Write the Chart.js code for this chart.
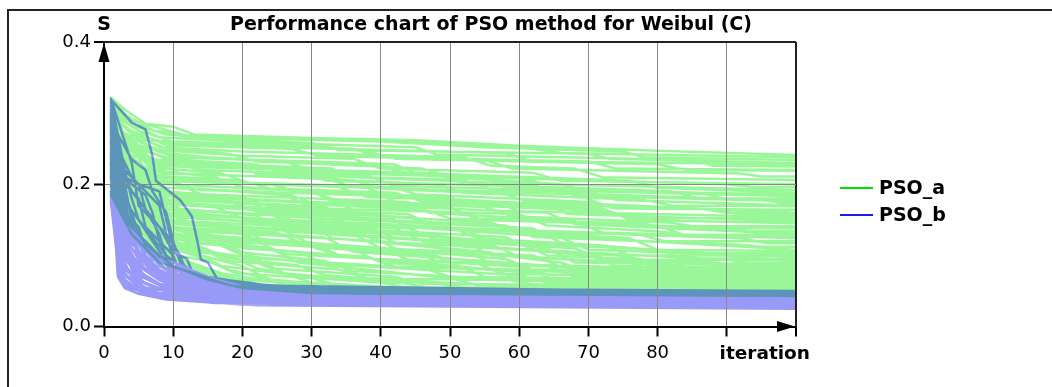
<!DOCTYPE html>
<html>
<head>
<meta charset="utf-8">
<script src="https://cdn.jsdelivr.net/npm/chart.js@4/dist/chart.umd.min.js"></script>
<style>
body{margin:0;background:#fff;}
</style>
</head>
<body>
<canvas id="psoChart" width="1052" height="387"></canvas>
<script>
// each curve: iteration, S, iteration, S ... (break points of the run)
var psoA = [
	[1,.322, 3,.305, 6,.285, 10,.281, 13,.27, 30,.265, 45,.262, 60,.254, 80,.247, 100,.241],
	[1,.318, 4,.29, 8,.279, 12,.268, 35,.263, 50,.256, 62,.25, 66,.244, 100,.238],
	[1,.315, 3,.298, 7,.276, 14,.266, 40,.26, 55,.252, 75,.246, 78,.238, 100,.234],
	[1,.31, 4,.285, 9,.27, 20,.262, 30,.258, 34,.248, 70,.243, 73,.236, 100,.230],
	[1,.305, 3,.29, 8,.266, 25,.258, 45,.252, 48,.242, 85,.234, 88,.226, 100,.225],
	[1,.30, 5,.275, 10,.26, 30,.254, 38,.246, 42,.236, 80,.228, 84,.22, 100,.219],
	[1,.296, 4,.275, 9,.255, 27,.25, 31,.24, 55,.234, 59,.222, 92,.215, 95,.211, 100,.211],
	[1,.292, 3,.28, 8,.252, 20,.246, 52,.238, 56,.226, 68,.222, 72,.21, 100,.206],
	[1,.30, 4,.27, 9,.25, 18,.243, 22,.232, 40,.226, 44,.214, 60,.208, 64,.2, 100,.192],
	[1,.288, 3,.272, 8,.245, 15,.238, 26,.232, 30,.22, 50,.214, 76,.205, 80,.195, 100,.188],
	[1,.285, 5,.255, 10,.24, 28,.23, 46,.222, 50,.21, 66,.2, 70,.19, 100,.183],
	[1,.28, 4,.258, 9,.235, 22,.228, 25,.218, 55,.21, 58,.196, 86,.188, 90,.179, 100,.178],
	[1,.31, 3,.28, 7,.25, 12,.23, 33,.222, 36,.21, 62,.2, 65,.188, 95,.178, 98,.174, 100,.174],
	[1,.276, 4,.25, 8,.228, 30,.218, 34,.206, 48,.2, 52,.188, 78,.178, 82,.17, 100,.169],
	[1,.27, 3,.252, 9,.222, 17,.215, 21,.202, 42,.196, 45,.186, 70,.175, 74,.166, 100,.164],
	[1,.29, 5,.245, 11,.215, 36,.206, 40,.194, 58,.186, 61,.176, 88,.165, 92,.158, 100,.157],
	[1,.265, 4,.238, 8,.21, 24,.2, 28,.19, 50,.182, 53,.17, 73,.162, 76,.153, 100,.152],
	[1,.30, 3,.268, 6,.235, 10,.205, 38,.195, 41,.184, 64,.172, 67,.158, 100,.148],
	[1,.26, 4,.232, 9,.2, 30,.19, 33,.176, 55,.168, 59,.155, 82,.146, 85,.141, 100,.141],
	[1,.282, 3,.255, 7,.222, 12,.195, 26,.185, 29,.172, 46,.165, 50,.152, 90,.138, 93,.134, 100,.134],
	[1,.255, 4,.226, 8,.19, 20,.182, 24,.168, 60,.158, 64,.142, 80,.134, 84,.129, 100,.129],
	[1,.295, 4,.25, 8,.21, 14,.186, 44,.175, 47,.16, 68,.148, 72,.132, 100,.124],
	[1,.25, 3,.228, 7,.192, 18,.178, 21,.165, 36,.156, 40,.142, 77,.13, 81,.12, 100,.12],
	[1,.305, 3,.27, 6,.22, 10,.18, 32,.168, 35,.152, 58,.142, 62,.126, 92,.115, 95,.112, 100,.112],
	[1,.245, 4,.21, 9,.175, 27,.162, 31,.148, 52,.136, 56,.12, 84,.106, 87,.103, 100,.103],
	[1,.275, 3,.24, 7,.198, 12,.17, 40,.158, 44,.14, 66,.125, 70,.108, 100,.098],
	[1,.24, 4,.205, 8,.168, 22,.156, 25,.14, 48,.128, 52,.112, 74,.1, 78,.094, 100,.094],
	[1,.29, 3,.25, 6,.205, 11,.165, 34,.15, 38,.132, 60,.118, 64,.1, 88,.09, 91,.087, 100,.087],
	[1,.235, 4,.2, 9,.16, 28,.148, 32,.13, 56,.115, 60,.098, 80,.088, 84,.084, 100,.084],
	[1,.27, 3,.235, 7,.185, 13,.152, 42,.138, 46,.12, 70,.1, 74,.085, 100,.082],
	[1,.23, 4,.19, 8,.152, 19,.14, 23,.122, 44,.108, 48,.092, 66,.084, 70,.08, 100,.08],
	[1,.285, 3,.24, 6,.19, 10,.155, 30,.142, 33,.124, 52,.108, 56,.088, 90,.08, 93,.078, 100,.078],
	[1,.225, 4,.185, 9,.145, 25,.132, 29,.115, 62,.1, 66,.084, 100,.076],
	[1,.26, 3,.22, 7,.172, 12,.145, 36,.13, 40,.11, 58,.095, 62,.08, 100,.074],
	[1,.22, 4,.178, 8,.138, 16,.128, 20,.11, 38,.098, 42,.084, 78,.074, 81,.072, 100,.072],
	[1,.30, 3,.25, 6,.19, 10,.148, 26,.135, 30,.115, 48,.1, 52,.082, 100,.07],
	[1,.215, 4,.172, 9,.13, 22,.12, 26,.102, 54,.088, 58,.074, 100,.068],
	[1,.255, 3,.21, 7,.16, 11,.135, 40,.12, 44,.1, 64,.085, 68,.07, 100,.066],
	[1,.21, 4,.165, 8,.125, 18,.114, 22,.096, 46,.082, 50,.07, 100,.064],
	[1,.28, 3,.23, 6,.175, 10,.14, 32,.125, 36,.105, 72,.08, 76,.066, 100,.062],
	[1,.205, 4,.16, 8,.118, 14,.108, 18,.092, 34,.08, 38,.068, 100,.06],
	[1,.25, 3,.205, 7,.15, 12,.118, 28,.105, 32,.088, 60,.072, 64,.062, 100,.058],
	[1,.20, 4,.152, 8,.11, 20,.098, 24,.082, 42,.07, 46,.06, 100,.056],
	[1,.275, 3,.22, 6,.165, 10,.128, 24,.11, 28,.09, 50,.068, 54,.058, 100,.054],
	[1,.195, 4,.148, 8,.104, 15,.092, 19,.075, 40,.062, 44,.054, 100,.052],
	[1,.245, 3,.195, 7,.14, 12,.11, 22,.095, 26,.075, 44,.06, 48,.052, 100,.05],
	[1,.19, 4,.14, 8,.098, 14,.085, 18,.068, 30,.058, 34,.05, 100,.048],
	[1,.27, 3,.21, 6,.15, 10,.11, 20,.085, 24,.066, 38,.054, 42,.048, 100,.046],
	[1,.24, 3,.185, 7,.125, 11,.095, 17,.075, 21,.06, 32,.05, 36,.046, 100,.045],
	[1,.185, 4,.13, 8,.09, 13,.075, 18,.058, 28,.05, 100,.044],
	[1,.23, 3,.17, 6,.115, 10,.085, 15,.066, 20,.054, 30,.047, 100,.043],
	[1,.26, 3,.20, 6,.14, 9,.105, 14,.08, 18,.065, 26,.055, 34,.05, 100,.049],
	[1,.265, 4,.23, 9,.19, 20,.18, 24,.16, 42,.15, 46,.13, 64,.11, 68,.09, 100,.086],
	[1,.22, 4,.185, 9,.155, 24,.145, 38,.138, 42,.118, 70,.104, 74,.09, 100,.088],
	[1,.25, 4,.215, 8,.185, 30,.175, 50,.168, 54,.15, 80,.142, 84,.128, 100,.126],
	[1,.235, 4,.20, 9,.175, 26,.165, 44,.158, 48,.14, 76,.124, 80,.108, 100,.106],
	[1,.29, 3,.26, 7,.235, 16,.225, 48,.215, 52,.20, 82,.19, 86,.18, 100,.18],
	[1,.28, 4,.245, 9,.215, 32,.208, 36,.196, 68,.186, 72,.172, 100,.16],
	[1,.21, 4,.18, 9,.145, 36,.132, 40,.12, 66,.09, 70,.076, 100,.074],
	[1,.20, 4,.16, 9,.125, 30,.112, 34,.10, 56,.08, 60,.066, 100,.064],
	[1,.315, 3,.29, 7,.262, 16,.255, 36,.25, 40,.238, 70,.232, 74,.222, 100,.22],
	[1,.30, 4,.272, 9,.258, 24,.252, 58,.244, 62,.232, 100,.228],
	[1,.286, 3,.268, 8,.248, 20,.24, 36,.236, 40,.222, 62,.216, 66,.205, 100,.20],
	[1,.278, 4,.252, 9,.238, 30,.232, 42,.228, 46,.212, 90,.20, 94,.196, 100,.196],
	[1,.27, 3,.25, 8,.232, 20,.226, 22,.214, 52,.206, 56,.192, 100,.186],
	[1,.262, 4,.24, 10,.225, 28,.22, 32,.205, 64,.196, 68,.184, 100,.176],
	[1,.298, 3,.262, 7,.236, 14,.22, 38,.212, 42,.198, 70,.19, 74,.178, 100,.17],
	[1,.258, 4,.228, 8,.212, 20,.205, 24,.194, 42,.188, 46,.176, 86,.166, 90,.16, 100,.16],
	[1,.25, 3,.232, 8,.205, 34,.196, 38,.182, 56,.176, 60,.162, 100,.154],
	[1,.288, 4,.245, 9,.218, 16,.21, 20,.196, 30,.19, 34,.176, 72,.166, 76,.15, 100,.145],
	[1,.242, 4,.218, 9,.195, 26,.188, 30,.174, 50,.166, 54,.152, 78,.144, 82,.138, 100,.138],
	[1,.274, 3,.24, 7,.205, 14,.192, 40,.184, 44,.168, 64,.16, 68,.144, 100,.13],
	[1,.236, 4,.205, 8,.185, 18,.176, 22,.162, 44,.154, 48,.138, 92,.124, 96,.117, 100,.117],
	[1,.262, 3,.23, 7,.195, 12,.182, 34,.172, 38,.156, 56,.146, 60,.13, 100,.108],
	[1,.232, 4,.198, 9,.172, 22,.165, 26,.15, 50,.14, 54,.124, 72,.114, 76,.10, 100,.10],
	[1,.284, 3,.248, 6,.21, 11,.178, 28,.168, 32,.152, 62,.138, 66,.118, 100,.092],
	[1,.226, 4,.19, 8,.165, 30,.155, 34,.138, 58,.126, 62,.108, 90,.094, 93,.09, 100,.09],
	[1,.252, 3,.222, 7,.182, 16,.168, 20,.152, 38,.142, 42,.124, 68,.11, 72,.094, 100,.085],
	[1,.228, 4,.192, 9,.158, 34,.146, 38,.128, 52,.118, 56,.10, 82,.086, 86,.08, 100,.079],
	[1,.27, 3,.23, 6,.19, 10,.162, 22,.152, 26,.134, 46,.122, 50,.104, 76,.09, 80,.077, 100,.077],
	[1,.218, 4,.18, 8,.15, 18,.14, 22,.122, 40,.11, 44,.094, 60,.084, 64,.073, 100,.071],
	[1,.244, 3,.21, 7,.17, 12,.148, 36,.136, 40,.118, 56,.104, 60,.086, 100,.069],
	[1,.212, 4,.172, 8,.14, 26,.128, 30,.112, 48,.098, 52,.082, 100,.065],
	[1,.265, 3,.22, 6,.178, 10,.15, 18,.138, 22,.12, 36,.108, 40,.09, 62,.076, 66,.064, 100,.063],
	[1,.208, 4,.168, 8,.13, 16,.12, 20,.104, 32,.092, 36,.078, 58,.066, 62,.059, 100,.059],
	[1,.238, 3,.20, 7,.155, 12,.13, 30,.118, 34,.10, 52,.082, 56,.066, 100,.057],
	[1,.204, 4,.162, 8,.122, 14,.112, 18,.096, 28,.086, 32,.072, 48,.06, 52,.055, 100,.055],
	[1,.255, 3,.21, 6,.165, 10,.132, 16,.118, 20,.10, 34,.085, 38,.068, 60,.056, 64,.053, 100,.053],
	[1,.198, 4,.156, 8,.115, 13,.10, 17,.085, 26,.074, 30,.062, 44,.054, 100,.051],
	[1,.232, 3,.19, 7,.14, 11,.115, 18,.10, 22,.082, 30,.068, 34,.057, 100,.047],
	[1,.19, 4,.145, 8,.108, 12,.092, 16,.076, 24,.064, 28,.054, 100,.045],
	[1,.25, 3,.20, 6,.15, 9,.118, 14,.10, 18,.08, 24,.066, 28,.056, 100,.044],
	[1,.188, 3,.15, 6,.12, 9,.10, 13,.085, 17,.07, 22,.06, 30,.052, 100,.047],
	[1,.222, 3,.18, 6,.13, 9,.10, 12,.086, 16,.07, 20,.06, 28,.053, 100,.05],
	[1,.272, 3,.23, 6,.20, 10,.172, 24,.162, 28,.146, 44,.138, 48,.122, 80,.108, 84,.096, 100,.095]
];

var psoB = [
	[1,.32, 2,.26, 3,.18, 4,.13, 5,.10, 7,.075, 10,.058, 15,.048, 30,.044, 100,.042],
	[1,.31, 2,.22, 3,.15, 4,.11, 6,.08, 9,.06, 14,.048, 25,.04, 100,.038],
	[1,.30, 2,.19, 3,.13, 4,.095, 6,.07, 9,.052, 14,.043, 25,.036, 100,.034],
	[1,.29, 2,.16, 3,.11, 4,.08, 6,.06, 10,.045, 20,.034, 100,.03],
	[1,.28, 2,.13, 3,.09, 4,.07, 6,.054, 10,.04, 20,.031, 100,.027],
	[1,.27, 2,.11, 3,.075, 5,.056, 8,.045, 12,.038, 22,.03, 100,.025],
	[1,.26, 2,.095, 3,.066, 5,.052, 8,.044, 15,.036, 100,.031],
	[1,.25, 2,.082, 3,.06, 5,.05, 9,.041, 18,.034, 100,.029],
	[1,.24, 2,.075, 3,.057, 6,.047, 10,.04, 16,.035, 30,.031, 100,.028],
	[1,.23, 2,.07, 3,.054, 5,.046, 9,.038, 20,.031, 100,.026],
	[1,.22, 2,.12, 3,.085, 5,.065, 8,.054, 12,.046, 24,.038, 100,.036],
	[1,.21, 2,.14, 3,.10, 5,.075, 8,.06, 12,.05, 18,.043, 100,.04],
	[1,.20, 2,.15, 3,.115, 4,.09, 6,.068, 10,.052, 20,.043, 100,.041],
	[1,.19, 2,.10, 3,.072, 5,.056, 8,.047, 14,.04, 100,.037],
	[1,.18, 2,.085, 3,.062, 5,.05, 9,.04, 16,.033, 100,.03],
	[1,.175, 2,.09, 3,.065, 5,.052, 10,.04, 22,.031, 100,.028],
	[1,.30, 2,.24, 3,.17, 4,.125, 6,.09, 9,.066, 14,.052, 22,.046, 100,.045],
	[1,.29, 2,.21, 3,.16, 4,.13, 6,.10, 8,.08, 12,.06, 25,.048, 100,.047],
	[1,.27, 2,.20, 3,.145, 5,.10, 7,.078, 10,.062, 15,.05, 100,.044],
	[1,.31, 2,.25, 3,.20, 4,.15, 6,.11, 8,.085, 11,.068, 16,.054, 30,.047, 100,.046],
	[1,.25, 2,.17, 3,.12, 5,.085, 8,.065, 13,.05, 20,.042, 100,.039],
	[1,.24, 2,.15, 3,.105, 5,.078, 8,.06, 12,.048, 20,.04, 100,.035],
	[1,.22, 2,.16, 3,.125, 4,.10, 6,.078, 9,.062, 13,.052, 22,.043, 100,.04],
	[1,.20, 2,.13, 3,.10, 5,.075, 8,.06, 12,.05, 20,.045, 100,.043],
	[1,.28, 2,.18, 3,.135, 4,.11, 6,.088, 8,.075, 11,.063, 16,.052, 40,.048, 100,.048],
	[1,.26, 2,.165, 3,.12, 4,.10, 7,.072, 12,.054, 22,.041, 100,.037],
	[1,.315, 2,.23, 3,.165, 5,.12, 7,.095, 10,.075, 14,.062, 20,.052, 100,.049],
	[1,.23, 2,.11, 3,.08, 5,.064, 9,.05, 20,.037, 100,.033],
	[1,.185, 2,.10, 3,.072, 6,.055, 13,.042, 100,.032],
	[1,.21, 2,.13, 3,.095, 5,.072, 8,.058, 14,.047, 26,.04, 100,.039],
	[1,.30, 2,.23, 3,.19, 4,.16, 5,.13, 6,.10, 8,.078, 12,.058, 20,.047, 100,.044],
	[1,.27, 2,.22, 3,.17, 4,.14, 6,.11, 8,.09, 10,.07, 14,.055, 100,.043],
	[1,.25, 2,.19, 3,.15, 5,.12, 7,.10, 9,.08, 12,.062, 18,.05, 100,.04],
	[1,.23, 2,.18, 3,.14, 4,.12, 6,.095, 8,.075, 11,.06, 16,.05, 100,.038],
	[1,.32, 2,.27, 3,.22, 4,.18, 5,.15, 7,.12, 9,.092, 12,.07, 18,.054, 100,.046],
	[1,.215, 2,.165, 3,.13, 5,.105, 7,.085, 10,.065, 15,.052, 100,.042],
	[1,.319, 4,.287, 6,.277, 7,.24, 7.5,.205, 11,.178, 12.7,.155, 13.5,.12, 14,.094, 15,.09, 16.3,.068, 17.2,.061, 20,.054, 30,.05, 100,.049],
	[1,.31, 2,.27, 4,.235, 6,.22, 7,.19, 9,.16, 10,.12, 11,.09, 13,.075, 18,.06, 30,.05, 100,.048],
	[1,.30, 2,.25, 3,.22, 5,.20, 8,.19, 9,.15, 10,.11, 12,.08, 16,.065, 25,.052, 100,.05],
	[1,.32, 3,.26, 4,.23, 5,.17, 7,.15, 9,.13, 11,.10, 12,.072, 20,.06, 40,.05, 100,.05],
	[1,.29, 2,.24, 3,.20, 5,.18, 6,.14, 8,.12, 10,.10, 11,.075, 14,.065, 22,.055, 100,.047],
	[1,.305, 2,.23, 4,.19, 6,.165, 8,.13, 9,.095, 12,.082, 15,.07, 20,.058, 35,.05, 100,.049],
	[1,.28, 2,.20, 3,.175, 5,.15, 7,.125, 9,.10, 10,.085, 14,.07, 22,.06, 28,.05, 100,.045],
	[1,.30, 2,.21, 4,.16, 5,.13, 7,.11, 9,.09, 12,.075, 18,.065, 25,.05, 100,.042],
	[1,.27, 2,.19, 3,.16, 5,.14, 6,.11, 8,.095, 10,.08, 16,.062, 24,.054, 100,.05],
	[1,.285, 2,.22, 4,.20, 6,.185, 7,.16, 8,.12, 9,.10, 11,.085, 13,.066, 22,.058, 30,.05, 100,.049],
	[1,.26, 2,.18, 3,.15, 5,.12, 7,.105, 9,.09, 11,.07, 17,.06, 30,.052, 100,.046],
	[1,.295, 2,.235, 3,.21, 5,.20, 6,.165, 8,.14, 10,.105, 12,.095, 13,.07, 20,.058, 100,.047],
	[1,.31, 2,.25, 3,.23, 4,.21, 6,.19, 8,.17, 9,.13, 10,.095, 12,.06, 20,.05, 100,.048],
	[1,.275, 2,.205, 3,.17, 4,.135, 6,.115, 8,.10, 10,.075, 12,.062, 16,.052, 100,.041]
];

var seriesNames = ["PSO_a", "PSO_b"];
var xMax = 100;
var yTicks = [0, 0.2, 0.4];
var chartTitle = "Performance chart of PSO method for Weibul (C)";
var yAxisName = "S";
var xAxisName = "iteration";

// all runs of one method go in one path, split by null points
function toPoints(curves){
	var pts=[];
	for(var k=0;k<curves.length;k++){
		var c=curves[k];
		for(var i=0;i<c.length;i+=2){
			pts.push({x:c[i], y:c[i+1]});
		}
		pts.push({x:c[c.length-2], y:null});
	}
	return pts;
}

var FONT = "'DejaVu Sans', Verdana, sans-serif";

var overlay = {
	id: 'overlay',
	afterDraw: function(chart){
		var ctx = chart.ctx;
		var xs = chart.scales.x, ys = chart.scales.y;
		var x0 = xs.getPixelForValue(0), xE = xs.getPixelForValue(xMax);
		var y0 = ys.getPixelForValue(0), yT = ys.getPixelForValue(yTicks[yTicks.length-1]);
		ctx.save();
		// frame
		ctx.strokeStyle = '#222';
		ctx.lineWidth = 2;
		ctx.beginPath();
		ctx.moveTo(8, chart.height);
		ctx.lineTo(8, 10);
		ctx.lineTo(chart.width, 10);
		ctx.stroke();
		// arrows
		ctx.fillStyle = '#000';
		ctx.beginPath();
		ctx.moveTo(x0, yT+1);
		ctx.lineTo(x0-5.5, yT+20);
		ctx.lineTo(x0+5.5, yT+20);
		ctx.closePath();
		ctx.fill();
		ctx.beginPath();
		ctx.moveTo(xE-1, y0);
		ctx.lineTo(xE-19, y0-5.5);
		ctx.lineTo(xE-19, y0+5.5);
		ctx.closePath();
		ctx.fill();
		// title and axis names
		ctx.textBaseline = 'middle';
		ctx.textAlign = 'center';
		ctx.font = 'bold 19px ' + FONT;
		ctx.fillText(chartTitle, 491, 25);
		ctx.fillText(yAxisName, x0, 25);
		ctx.textAlign = 'right';
		ctx.textBaseline = 'alphabetic';
		ctx.font = 'bold 18.5px ' + FONT;
		ctx.fillText(xAxisName, xE+14, 359);
		// legend
		var ds = chart.data.datasets;
		ctx.textAlign = 'left';
		ctx.textBaseline = 'middle';
		ctx.font = 'bold 19px ' + FONT;
		for(var k=0;k<ds.length;k++){
			var ly = 188 + k*27;
			ctx.strokeStyle = ds[k].legendColor;
			ctx.lineWidth = 2;
			ctx.beginPath();
			ctx.moveTo(840, ly);
			ctx.lineTo(873, ly);
			ctx.stroke();
			ctx.fillStyle = '#000';
			ctx.fillText(ds[k].label, 879, ly+1);
		}
		ctx.restore();
	}
};

Chart.defaults.font.family = FONT;
Chart.defaults.font.size = 18;
Chart.defaults.color = '#000';

var ctx = document.getElementById('psoChart').getContext('2d');
var myChart = new Chart(ctx, {
	type: 'line',
	data: {
		datasets: [
			{
				label: seriesNames[0],
				data: toPoints(psoA),
				borderColor: 'rgba(0,235,0,0.4)',
				legendColor: 'rgb(0,225,0)',
				borderWidth: 2.5,
				order: 2
			},
			{
				label: seriesNames[1],
				data: toPoints(psoB),
				borderColor: 'rgba(0,0,235,0.4)',
				legendColor: 'rgb(30,30,225)',
				borderWidth: 2.5,
				order: 1
			}
		]
	},
	options: {
		responsive: false,
		animation: false,
		spanGaps: false,
		elements: {
			point: { radius: 0, hoverRadius: 0 },
			line: { tension: 0, borderJoinStyle: 'round', borderCapStyle: 'round', fill: false }
		},
		layout: { padding: { left: 8, top: 42, right: 256, bottom: 0 } },
		plugins: {
			legend: { display: false },
			title: { display: false },
			tooltip: { enabled: false }
		},
		events: [],
		scales: {
			x: {
				type: 'linear',
				min: 0,
				max: xMax,
				afterFit: function(s){ s.height = 60.5; },
				ticks: {
					stepSize: 10,
					padding: 6,
					maxRotation: 0,
					callback: function(v){ return v >= 90 ? '' : v; }
				},
				grid: {
					z: 1,
					tickLength: 10,
					color: function(c){
						var v = c.tick.value;
						if(v === 0) return 'rgba(0,0,0,0)';
						if(v === xMax) return '#222';
						return '#888';
					},
					lineWidth: function(c){ return c.tick.value === xMax ? 2 : 1; },
					tickColor: '#000',
					tickWidth: 2
				},
				border: { z: 2, color: '#000', width: 2 }
			},
			y: {
				min: 0,
				max: 0.4,
				afterFit: function(s){ s.width = 96; },
				ticks: {
					stepSize: 0.2,
					padding: 3,
					callback: function(v){ return v.toFixed(1); }
				},
				grid: {
					z: 1,
					tickLength: 10,
					color: function(c){
						var v = c.tick.value;
						if(Math.abs(v) < 1e-9) return 'rgba(0,0,0,0)';
						if(Math.abs(v-0.4) < 1e-9) return '#222';
						return '#888';
					},
					lineWidth: function(c){ return Math.abs(c.tick.value-0.4) < 1e-9 ? 2 : 1; },
					tickColor: '#000',
					tickWidth: 2
				},
				border: { z: 2, color: '#000', width: 2 }
			}
		}
	},
	plugins: [overlay]
});
</script>
</body>
</html>
